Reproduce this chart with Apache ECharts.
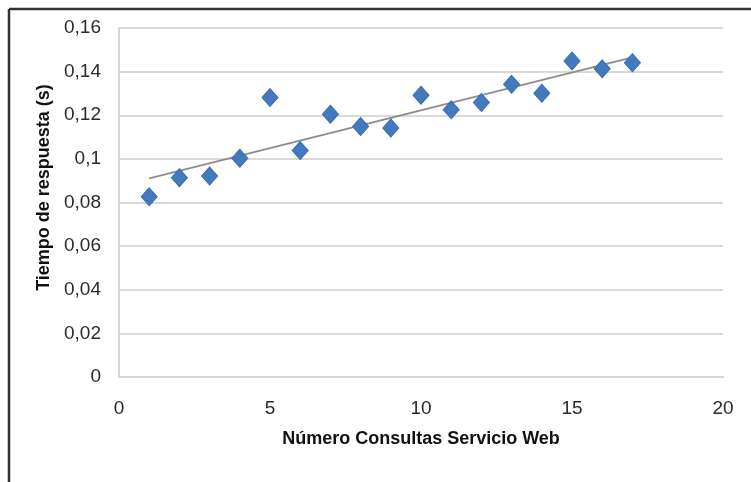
<!DOCTYPE html>
<html>
<head>
<meta charset="utf-8">
<script src="https://cdn.jsdelivr.net/npm/echarts@6/dist/echarts.min.js"></script>
<style>
html,body{margin:0;padding:0;background:#fff;}
#c{width:751px;height:482px;}
</style>
</head>
<body>
<div id="c"></div>
<script>
// Data
var consultas = [1, 2, 3, 4, 5, 6, 7, 8, 9, 10, 11, 12, 13, 14, 15, 16, 17];
var tiempos = [0.0826, 0.0914, 0.0921, 0.1003, 0.1281, 0.1038, 0.1205, 0.1148, 0.1142,
               0.1292, 0.1225, 0.1258, 0.1342, 0.1301, 0.1449, 0.1413, 0.1441];
var xTicks = [0, 5, 10, 15, 20];
var yTicks = [0, 0.02, 0.04, 0.06, 0.08, 0.1, 0.12, 0.14, 0.16];
var xTitle = 'Número Consultas Servicio Web';
var yTitle = 'Tiempo de respuesta (s)';

// Linear trendline (least squares) from the data
var n = consultas.length, sx = 0, sy = 0, sxx = 0, sxy = 0;
for (var i = 0; i < n; i++) {
  sx += consultas[i]; sy += tiempos[i];
  sxx += consultas[i] * consultas[i]; sxy += consultas[i] * tiempos[i];
}
var slope = (n * sxy - sx * sy) / (n * sxx - sx * sx);
var intercept = (sy - slope * sx) / n;
var xFirst = consultas[0], xLast = consultas[n - 1];
var trend = [[xFirst, intercept + slope * xFirst], [xLast, intercept + slope * xLast]];

var points = consultas.map(function (x, i) { return [x, tiempos[i]]; });

var chart = echarts.init(document.getElementById('c'), null, {renderer: 'canvas'});
var font = '"Liberation Sans", "DejaVu Sans", sans-serif';
chart.setOption({
  animation: false,
  backgroundColor: '#ffffff',
  grid: {left: 119, right: 28, top: 28, bottom: 105, containLabel: false},
  xAxis: {
    type: 'value',
    min: xTicks[0], max: xTicks[xTicks.length - 1], interval: xTicks[1] - xTicks[0],
    name: xTitle, nameLocation: 'middle', nameGap: 53,
    nameTextStyle: {fontFamily: font, fontSize: 18, fontWeight: 'bold', color: '#111'},
    axisLine: {show: true, lineStyle: {color: '#d4d4d4', width: 2}},
    axisTick: {show: false},
    splitLine: {show: false},
    axisLabel: {fontFamily: font, fontSize: 19, color: '#2a2a2a', margin: 22}
  },
  yAxis: {
    type: 'value',
    min: yTicks[0], max: yTicks[yTicks.length - 1], interval: 0.02,
    name: yTitle, nameLocation: 'middle', nameGap: 64, nameRotate: 90,
    nameTextStyle: {fontFamily: font, fontSize: 18, fontWeight: 'bold', color: '#111',
                    padding: [0, 0, 0, 30]},
    axisLine: {show: true, lineStyle: {color: '#d4d4d4', width: 2}},
    axisTick: {show: false},
    splitLine: {show: true, lineStyle: {color: '#d9d9d9', width: 2}},
    axisLabel: {
      fontFamily: font, fontSize: 19, color: '#2a2a2a', margin: 18,
      formatter: function (v) { return String(+v.toFixed(2)).replace('.', ','); }
    }
  },
  graphic: [
    {type: 'line', shape: {x1: 9, y1: 9, x2: 751, y2: 9}, style: {stroke: '#333', lineWidth: 2.5}},
    {type: 'line', shape: {x1: 9, y1: 9, x2: 9, y2: 482}, style: {stroke: '#333', lineWidth: 2.5}}
  ],
  series: [
    {
      type: 'line',
      data: trend,
      symbol: 'none',
      lineStyle: {color: '#8c8c8c', width: 1.8},
      z: 3
    },
    {
      type: 'scatter',
      data: points,
      symbol: 'diamond',
      symbolSize: [16, 18],
      itemStyle: {color: '#4279bf', borderColor: '#3a6cad', borderWidth: 1, opacity: 1},
      z: 4
    }
  ]
});
</script>
</body>
</html>
